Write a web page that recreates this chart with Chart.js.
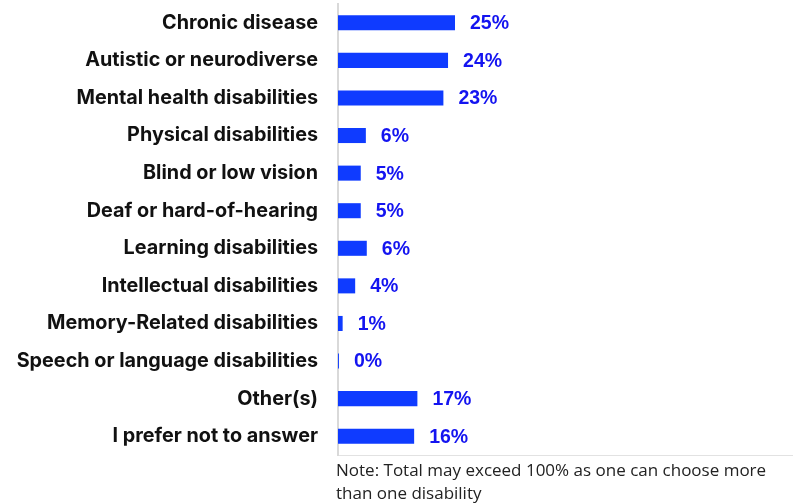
<!DOCTYPE html>
<html>
<head>
<meta charset="utf-8">
<script src="https://cdn.jsdelivr.net/npm/chart.js@4"></script>
<style>
  html, body { margin:0; padding:0; background:#fff; }
  #wrap { position:relative; width:793px; height:503px; }
  #note { position:absolute; left:336px; top:458px; width:450px;
          font-family:'Open Sans', 'Noto Sans', sans-serif; font-size:17px; line-height:23px; color:#222; }
</style>
</head>
<body>
<div id="wrap">
  <canvas id="chart" width="793" height="503"></canvas>
  <div id="note">Note: Total may exceed 100% as one can choose more than one disability</div>
</div>
<script>
// ── Data ─────────────────────────────────────────────────────
const categories = [
  'Chronic disease', 'Autistic or neurodiverse', 'Mental health disabilities',
  'Physical disabilities', 'Blind or low vision', 'Deaf or hard-of-hearing',
  'Learning disabilities', 'Intellectual disabilities', 'Memory-Related disabilities',
  'Speech or language disabilities', 'Other(s)', 'I prefer not to answer'
];
const values = [25.2, 23.7, 22.7, 6.0, 4.9, 4.9, 6.2, 3.7, 1.0, 0.2, 17.1, 16.4];
const shownLabels = ['25%','24%','23%','6%','5%','5%','6%','4%','1%','0%','17%','16%'];

const BAR_BLUE  = '#0f3bff';
const TEXT_BLUE = '#1414f0';

// ── Value labels after each bar ──────────────────────────────
const valueLabels = {
  id: 'valueLabels',
  afterDatasetsDraw(chart) {
    const ctx = chart.ctx;
    const meta = chart.getDatasetMeta(0);
    ctx.save();
    ctx.font = 'bold 19.5px "Liberation Sans", Arial, sans-serif';
    ctx.fillStyle = TEXT_BLUE;
    ctx.textBaseline = 'middle';
    ctx.textAlign = 'left';
    meta.data.forEach((bar, i) => {
      ctx.fillText(shownLabels[i], bar.x + 15, bar.y + 1);
    });
    ctx.restore();
  }
};

new Chart(document.getElementById('chart').getContext('2d'), {
  type: 'bar',
  data: {
    labels: categories,
    datasets: [{ data: values, backgroundColor: BAR_BLUE, borderWidth: 0,
                 categoryPercentage: 1, barPercentage: 0.4 }]
  },
  options: {
    indexAxis: 'y',
    responsive: false,
    animation: false,
    layout: { padding: { top: 4, bottom: 48, left: 0, right: 0 } },
    scales: {
      x: {
        min: 0, max: 98,
        ticks: { display: false },
        grid: { display: false, drawTicks: false },
        border: { display: true, color: '#e2e2e2', width: 1 }
      },
      y: {
        afterFit(scale) { scale.width = 338; scale.paddingTop = 0; scale.paddingBottom = 0; },
        ticks: {
          color: '#111',
          padding: 20,
          font: { family: 'Inter, "Open Sans", sans-serif', size: 19.8, weight: 'bold' }
        },
        grid: { display: false, drawTicks: false },
        border: { display: true, color: '#d9d9d9', width: 2 }
      }
    },
    plugins: { legend: { display: false }, tooltip: { enabled: false } }
  },
  plugins: [valueLabels]
});
</script>
</body>
</html>
